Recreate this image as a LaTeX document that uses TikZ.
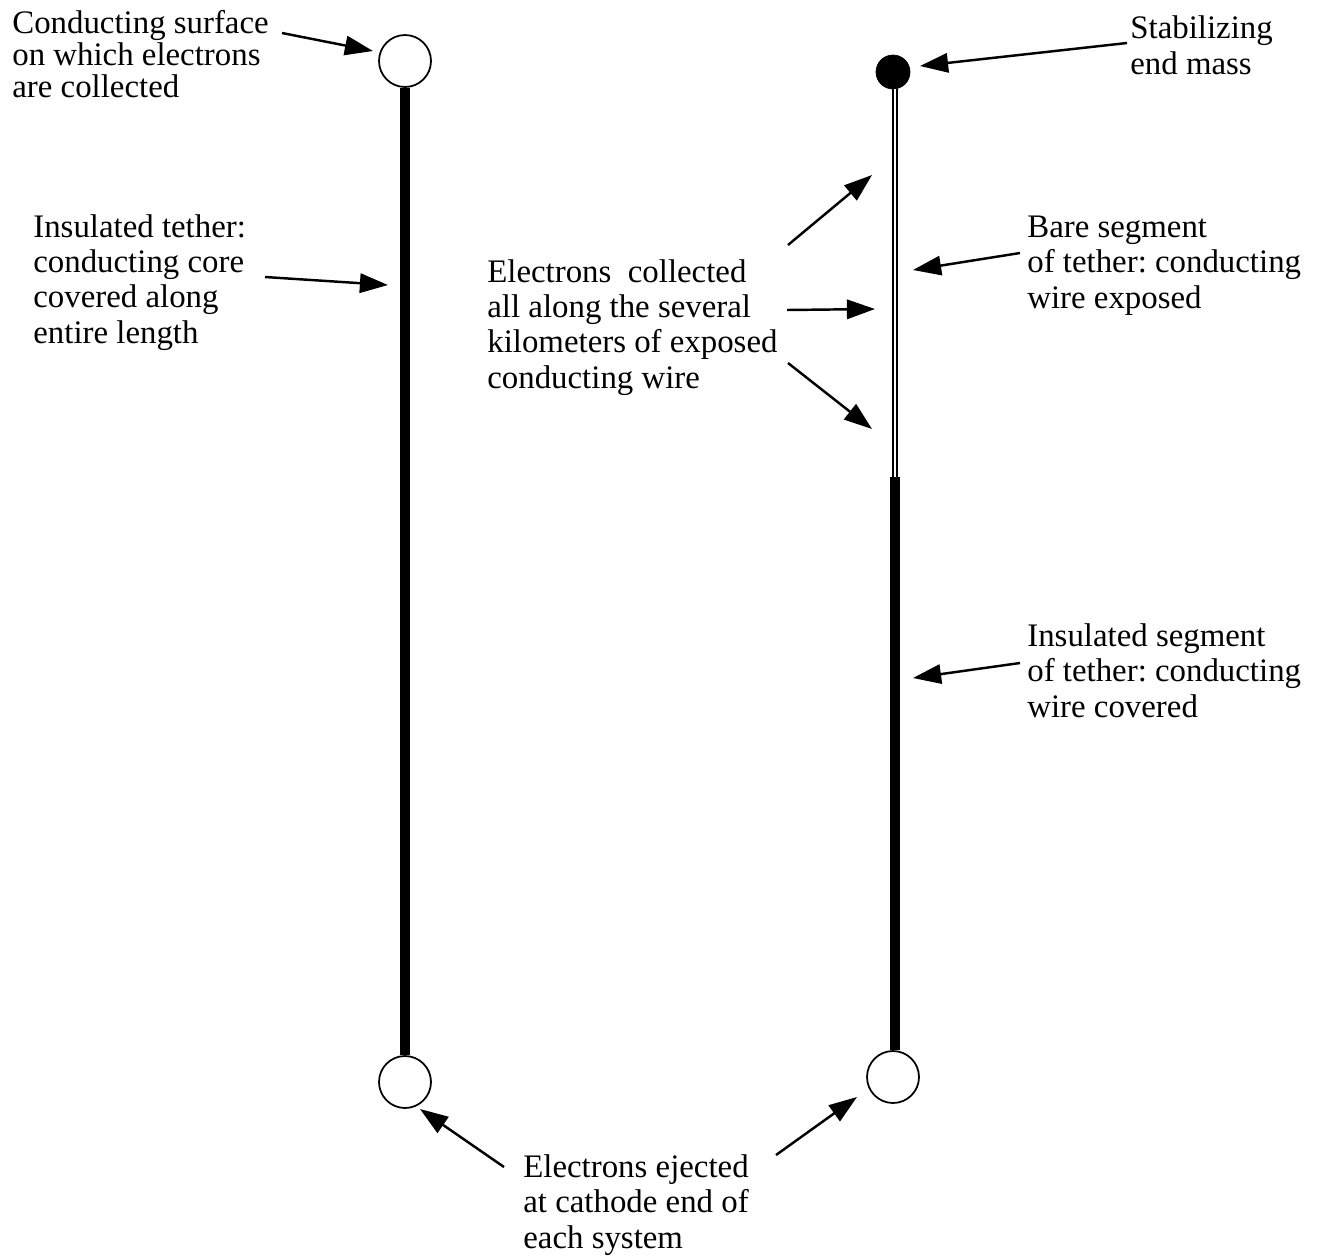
\documentclass[tikz,border=0pt]{standalone}
\usepackage{fontspec}
\setmainfont{Liberation Serif}
\usetikzlibrary{arrows.meta}
\frenchspacing

\tikzset{
  lbl/.style={align=left, anchor=base west, inner sep=0pt, font=\fontsize{18.7}{20.1}\selectfont},
  arr/.style={-{Triangle[length=16pt,width=11pt]}, line width=1.4pt},
  tether/.style={line width=5.4pt},
  bare/.style={line width=1.1pt, double distance=1.2pt},
  cathode/.style={draw, circle, line width=1pt, minimum size=1.04cm, inner sep=0pt, fill=white},
  endmass/.style={draw, circle, fill=black, minimum size=0.68cm, inner sep=0pt}
}

\begin{document}
\begin{tikzpicture}[x=0.02cm, y=-0.02cm]
\useasboundingbox (0,0) rectangle (1321,1258);
\node[cathode] (topL) at (405,61) {};
\node[cathode] (botL) at (405,1082) {};
\draw[tether] (topL.south) -- (botL.north);
\node[endmass] (mass) at (893,72) {};
\node[cathode] (botR) at (893,1077) {};
\coordinate (joint) at (895,477);
\draw[bare] (mass.south -| joint) -- (joint);
\draw[tether] (joint) -- (botR.north -| joint);
\node[lbl, font=\fontsize{18.7}{18.1}\selectfont] (surf) at (12,97) {Conducting surface\\on which electrons\\are collected};
\node[lbl] (insul) at (33,343) {Insulated tether:\\conducting core\\covered along\\entire length};
\node[lbl] (stab) at (1130,74) {Stabilizing\\end mass};
\node[lbl] (coll) at (487,388) {Electrons\ \ collected\\all along the several\\kilometers of exposed\\conducting wire};
\node[lbl] (bare) at (1027,308) {Bare segment\\of tether: conducting\\wire exposed};
\node[lbl] (inseg) at (1027,717) {Insulated segment\\of tether: conducting\\wire covered};
\node[lbl] (eject) at (523,1248) {Electrons ejected\\at cathode end of\\each system};
\coordinate (a1) at (282,33);   \coordinate (b1) at (373,51);
\coordinate (a2) at (265,277);  \coordinate (b2) at (388,285);
\coordinate (a3) at (1127,43);  \coordinate (b3) at (920,66);
\coordinate (a4) at (788,245);  \coordinate (b4) at (872,175);
\coordinate (a5) at (787,310);  \coordinate (b5) at (875,309);
\coordinate (a6) at (788,363);  \coordinate (b6) at (872,429);
\coordinate (a7) at (1020,253); \coordinate (b7) at (913,270);
\coordinate (a8) at (1020,663); \coordinate (b8) at (913,678);
\coordinate (a9) at (504,1167); \coordinate (b9) at (420,1109);
\coordinate (a10) at (776,1155); \coordinate (b10) at (857,1097);
\foreach \i in {1,...,10}
  \draw[arr] (a\i) -- (b\i);
\end{tikzpicture}
\end{document}
